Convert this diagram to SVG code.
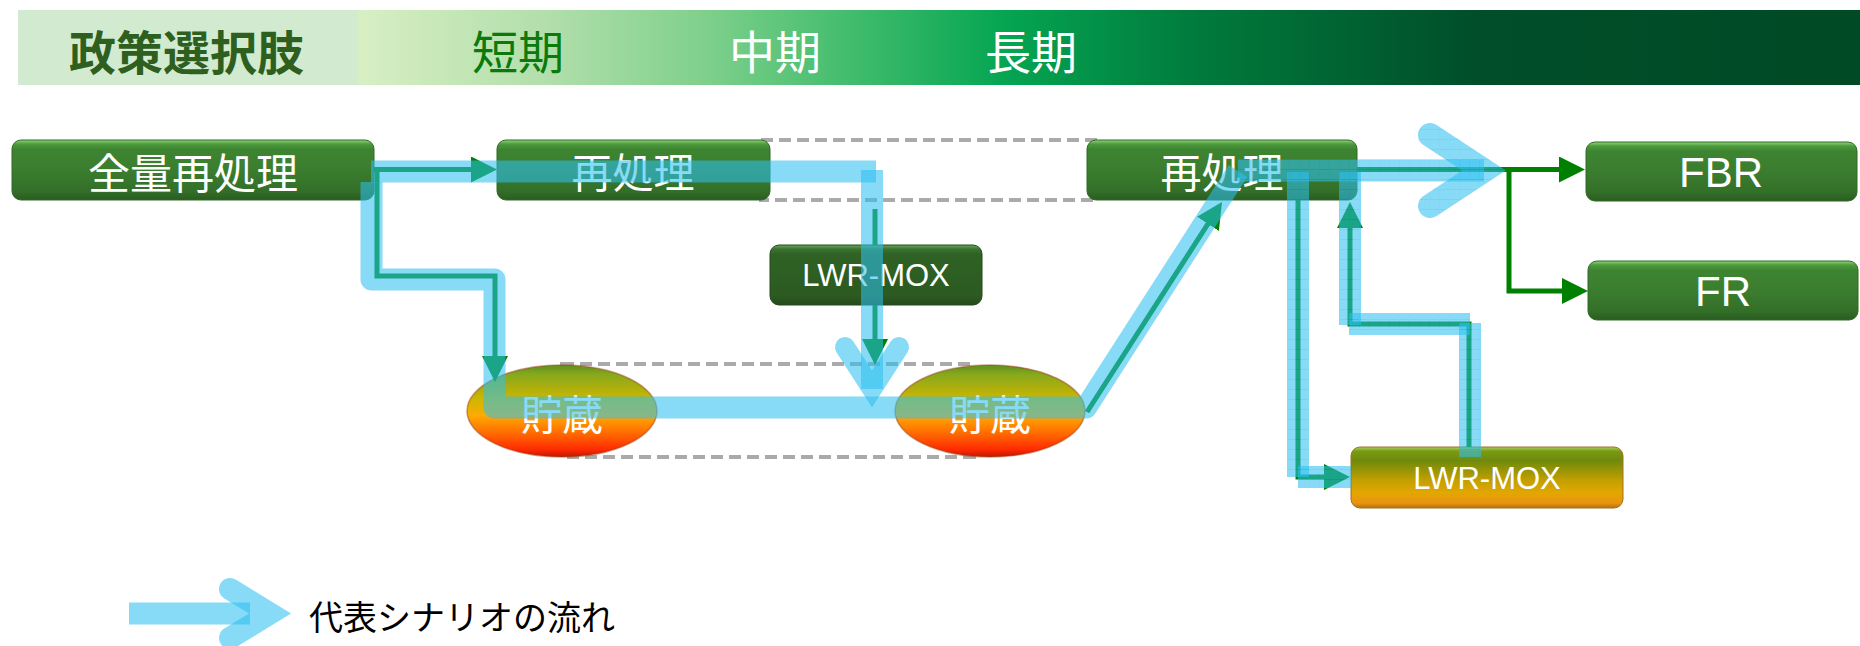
<svg xmlns="http://www.w3.org/2000/svg" width="1860" height="646" viewBox="0 0 1860 646">
<defs>
<style>
.hdr{font-family:"Noto Sans CJK JP","Noto Sans CJK SC",sans-serif;font-weight:bold;font-size:47px;dominant-baseline:central}
.jp{font-family:"Noto Sans CJK JP","Noto Sans CJK SC",sans-serif;font-size:41px;fill:#fff;text-anchor:middle;dominant-baseline:central}
.en{font-family:"Liberation Sans",Arial,sans-serif;fill:#fff;text-anchor:middle;dominant-baseline:central}
.dash{fill:none;stroke:#aaaaaa;stroke-width:4;stroke-dasharray:12 6}
.g{fill:none;stroke:#008000;stroke-width:5;stroke-linejoin:miter}
.ga{fill:none;stroke:#008000;stroke-width:5;stroke-linejoin:miter;marker-end:url(#ah)}
.b{fill:none;stroke:#2ec0f0;stroke-opacity:0.57;stroke-width:22;stroke-linejoin:round}
.bh{fill:none;stroke:url(#hatch);stroke-opacity:0.57;stroke-width:22;stroke-linejoin:round}
.chev{fill:none;stroke-linecap:round;stroke-linejoin:miter;stroke-miterlimit:6}
</style>
<linearGradient id="hdrGrad" gradientUnits="userSpaceOnUse" x1="358" y1="0" x2="1860" y2="0">
<stop offset="0" stop-color="#d8efc4"/>
<stop offset="0.13" stop-color="#b0deaa"/>
<stop offset="0.23" stop-color="#80d08c"/>
<stop offset="0.33" stop-color="#40bc6c"/>
<stop offset="0.43" stop-color="#05a552"/>
<stop offset="0.56" stop-color="#007a3c"/>
<stop offset="0.74" stop-color="#004f2a"/>
<stop offset="1" stop-color="#004a26"/>
</linearGradient>
<linearGradient id="gNode" x1="0" y1="0" x2="0" y2="1">
<stop offset="0" stop-color="#8fd57a"/>
<stop offset="0.07" stop-color="#4c9a3c"/>
<stop offset="0.16" stop-color="#3d8431"/>
<stop offset="0.5" stop-color="#3b7d2f"/>
<stop offset="0.85" stop-color="#336f28"/>
<stop offset="1" stop-color="#2a5c21"/>
</linearGradient>
<linearGradient id="gDark" x1="0" y1="0" x2="0" y2="1">
<stop offset="0" stop-color="#6aa85a"/>
<stop offset="0.07" stop-color="#3a7230"/>
<stop offset="0.16" stop-color="#2f6224"/>
<stop offset="0.85" stop-color="#2c5a21"/>
<stop offset="1" stop-color="#234a1a"/>
</linearGradient>
<linearGradient id="gMox" x1="0" y1="0" x2="0" y2="1">
<stop offset="0" stop-color="#a8d060"/>
<stop offset="0.07" stop-color="#7a9a12"/>
<stop offset="0.22" stop-color="#6e8a0c"/>
<stop offset="0.55" stop-color="#c4a000"/>
<stop offset="0.75" stop-color="#e2a700"/>
<stop offset="0.92" stop-color="#e89410"/>
<stop offset="1" stop-color="#b87010"/>
</linearGradient>
<linearGradient id="gStore" x1="0" y1="0" x2="0" y2="1">
<stop offset="0" stop-color="#5f8f1e"/>
<stop offset="0.1" stop-color="#86a81c"/>
<stop offset="0.38" stop-color="#d0b600"/>
<stop offset="0.55" stop-color="#ffaa00"/>
<stop offset="0.75" stop-color="#ff6800"/>
<stop offset="0.92" stop-color="#ff2a00"/>
<stop offset="1" stop-color="#c01800"/>
</linearGradient>
<pattern id="hatch" patternUnits="userSpaceOnUse" width="10" height="10">
<rect width="10" height="10" fill="#2ec0f0"/>
<path d="M0 9.5H10" stroke="#18ace6" stroke-width="1"/>
<path d="M9.5 0V10" stroke="#2ab8ee" stroke-width="1"/>
</pattern>
<marker id="ah" markerUnits="userSpaceOnUse" viewBox="0 0 26 26" markerWidth="26" markerHeight="26" refX="16" refY="13" orient="auto">
<path d="M0,0 L26,13 L0,26 Z" fill="#008000"/>
</marker>
</defs>

<g id="header">
<rect x="18" y="10" width="342" height="75" fill="#d2ebd0"/>
<rect x="358" y="10" width="1502" height="75" fill="url(#hdrGrad)"/>
<text class="hdr" x="69" y="49" fill="#2f5f1f">政策選択肢</text>
<text class="hdr" x="472" y="49" fill="#0a7a0a" style="font-weight:normal;font-size:46px">短期</text>
<text class="hdr" x="729" y="49" fill="#ffffff" style="font-weight:normal;font-size:46px">中期</text>
<text class="hdr" x="985" y="49" fill="#ffffff" style="font-weight:normal;font-size:46px">長期</text>
</g>

<g id="groupings">
<rect class="dash" x="761" y="140" width="334" height="60"/>
<rect class="dash" x="562" y="364" width="412" height="93"/>
</g>

<g id="node-zenryo">
<rect x="12" y="140" width="362" height="60" rx="9" fill="url(#gNode)" stroke="#2f6a26" stroke-width="1"/>
<text class="jp" x="193" y="170" style="font-size:42px">全量再処理</text>
</g>
<g id="node-saishori1">
<rect x="497" y="140" width="273" height="60" rx="9" fill="url(#gNode)" stroke="#2f6a26" stroke-width="1"/>
<text class="jp" x="633" y="170">再処理</text>
</g>
<g id="node-lwrmox1">
<rect x="770" y="245" width="212" height="60" rx="9" fill="url(#gDark)" stroke="#234a1a" stroke-width="1"/>
<text class="en" x="876" y="275" font-size="31">LWR-MOX</text>
</g>
<g id="node-chozo1">
<ellipse cx="562" cy="411" rx="95" ry="46" fill="url(#gStore)" stroke="#a04010" stroke-opacity="0.5" stroke-width="1.5"/>
<text class="jp" x="562" y="412">貯蔵</text>
</g>
<g id="node-chozo2">
<ellipse cx="990" cy="411" rx="95" ry="46" fill="url(#gStore)" stroke="#a04010" stroke-opacity="0.5" stroke-width="1.5"/>
<text class="jp" x="990" y="412">貯蔵</text>
</g>
<g id="node-saishori2">
<rect x="1087" y="140" width="270" height="60" rx="9" fill="url(#gNode)" stroke="#2f6a26" stroke-width="1"/>
<text class="jp" x="1222" y="170">再処理</text>
</g>
<g id="node-fbr">
<rect x="1586" y="142" width="271" height="59" rx="9" fill="url(#gNode)" stroke="#2f6a26" stroke-width="1"/>
<text class="en" x="1721" y="172" font-size="42">FBR</text>
</g>
<g id="node-fr">
<rect x="1588" y="261" width="270" height="59" rx="9" fill="url(#gNode)" stroke="#2f6a26" stroke-width="1"/>
<text class="en" x="1723" y="291" font-size="42">FR</text>
</g>
<g id="node-lwrmox2">
<rect x="1351" y="447" width="272" height="61" rx="9" fill="url(#gMox)" stroke="#a07020" stroke-width="1"/>
<text class="en" x="1487" y="478" font-size="31">LWR-MOX</text>
</g>

<g id="connectors">
<path class="ga" d="M374,169.5 H487"/>
<path class="ga" d="M377,169.5 V276 H495 V372"/>
<path class="g" d="M875,209 V245"/>
<path class="ga" d="M875,305 V355"/>
<path class="ga" d="M1087,412 L1216.6,210.4"/>
<path class="ga" d="M1357,169.5 H1575"/>
<path class="ga" d="M1509,169.5 V291 H1578"/>
<path class="ga" d="M1298,200 V477 H1340"/>
<path class="ga" d="M1469,447 V324 H1350 V212"/>
</g>

<g id="scenario-flow">
<path class="b" d="M371,171.5 H876"/>
<path class="b" d="M872,170 V389"/>
<path class="chev" stroke="#2ec0f0" stroke-opacity="0.57" stroke-width="20" d="M845,347 L872,389 L899,347"/>
<path class="b" d="M371.5,182 V279.5 H494.5 V407.5 H1086 L1238,171"/>
<path class="bh" d="M1238,170.5 H1484"/>
<path class="chev" stroke="url(#hatch)" stroke-opacity="0.57" stroke-width="24" d="M1430,135 L1484,170.5 L1430,206"/>
<path class="bh" d="M1298,172 V477"/>
<path class="bh" d="M1298,477 H1351"/>
<path class="bh" d="M1470,457 V323"/>
<path class="bh" d="M1470,324 H1349"/>
<path class="bh" d="M1350,325 V172"/>
</g>

<g id="legend">
<path class="b" d="M129,613.5 H250" stroke-width="21"/>
<path class="chev" stroke="#2ec0f0" stroke-opacity="0.57" stroke-width="22" d="M230,589 L270,613.5 L230,638"/>
<text x="309" y="615" font-family="'Noto Sans CJK JP','Noto Sans CJK SC',sans-serif" font-size="34" fill="#000" dominant-baseline="central">代表シナリオの流れ</text>
</g>
</svg>
